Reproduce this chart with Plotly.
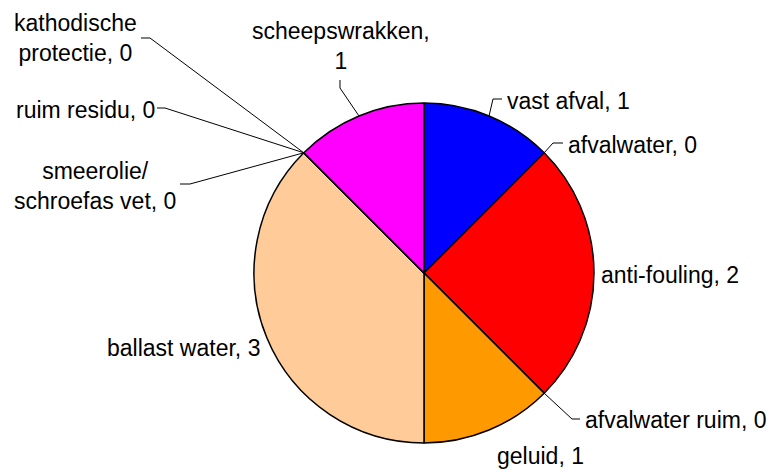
import math
import plotly.graph_objects as go

# ---- data ----
categories = [
    "vast afval", "afvalwater", "anti-fouling", "afvalwater ruim", "geluid",
    "ballast water", "smeerolie/ schroefas vet", "ruim residu",
    "kathodische protectie", "scheepswrakken",
]
values = [1, 0, 2, 0, 1, 3, 0, 0, 0, 1]
colors = ["#0000FF", "#FF0000", "#FF0000", "#FF9900", "#FF9900",
          "#FFCC99", "#FFCC99", "#FFCC99", "#FF00FF", "#FF00FF"]

# ---- layout constants (pixels) ----
W, H = 772, 470
CX, CY, R = 424, 273, 170
FONT = dict(family="Liberation Sans, Arial, sans-serif", size=23, color="black")

# label placement per slice: text anchor (x, y, xanchor), leader elbow points
placement = {
    0: dict(x=505, y=101, xa="left", path=[(493, 99), (502, 99)]),
    1: dict(x=566, y=145, xa="left", path=[(553, 143), (563, 143)]),
    2: dict(x=599, y=275, xa="left", path=None),
    3: dict(x=583, y=420, xa="left", path=[(572, 419), (580, 419)]),
    4: dict(x=495, y=456, xa="left", path=None),
    5: dict(x=262, y=348, xa="right", path=None),
    6: dict(x=95, y=186, xa="center", path=[(190, 184), (180, 184)]),
    7: dict(x=157, y=110, xa="right", path=[(165, 108), (157, 108)]),
    8: dict(x=75, y=38, xa="center", path=[(150, 38), (141, 38)]),
    9: dict(x=341, y=46, xa="center", path=[(340, 88), (340, 80)]),
}


def label_text(name, val):
    if name == "smeerolie/ schroefas vet":
        return f"smeerolie/<br>schroefas vet, {val}"
    if name == "kathodische protectie":
        return f"kathodische<br>protectie, {val}"
    if name == "scheepswrakken":
        return f"scheepswrakken,<br>{val}"
    return f"{name}, {val}"


def px(x):
    return x / W


def py(y):
    return 1 - y / H


fig = go.Figure(go.Pie(
    labels=categories,
    values=values,
    sort=False,
    direction="clockwise",
    rotation=0,
    marker=dict(colors=[colors[i] for i in range(len(values))],
                line=dict(color="black", width=1.5)),
    textinfo="none",
    hoverinfo="label+value",
    showlegend=False,
    domain=dict(x=[px(CX - R), px(CX + R)], y=[py(CY + R), py(CY - R)]),
))

total = sum(values)
cum = 0
annotations = []
shapes = []
for i, (name, v) in enumerate(zip(categories, values)):
    start = cum
    cum += v
    mid = (start + v / 2) / total * 2 * math.pi
    ex = CX + R * math.sin(mid)
    ey = CY - R * math.cos(mid)
    p = placement[i]
    annotations.append(dict(
        x=px(p["x"]), y=py(p["y"]), xref="paper", yref="paper",
        xanchor=p["xa"], yanchor="middle", text=label_text(name, v),
        showarrow=False, font=FONT, align="center",
    ))
    if p["path"]:
        pts = [(ex, ey)] + p["path"]
        d = "M " + " L ".join(f"{px(a):.5f},{py(b):.5f}" for a, b in pts)
        shapes.append(dict(type="path", path=d, xref="paper", yref="paper",
                           line=dict(color="black", width=1)))

fig.update_layout(
    width=W, height=H,
    margin=dict(l=0, r=0, t=0, b=0),
    paper_bgcolor="white", plot_bgcolor="white",
    annotations=annotations, shapes=shapes,
)

fig.write_html("out.html", config={"displayModeBar": False},
               post_script="document.body.style.margin='0px';")
